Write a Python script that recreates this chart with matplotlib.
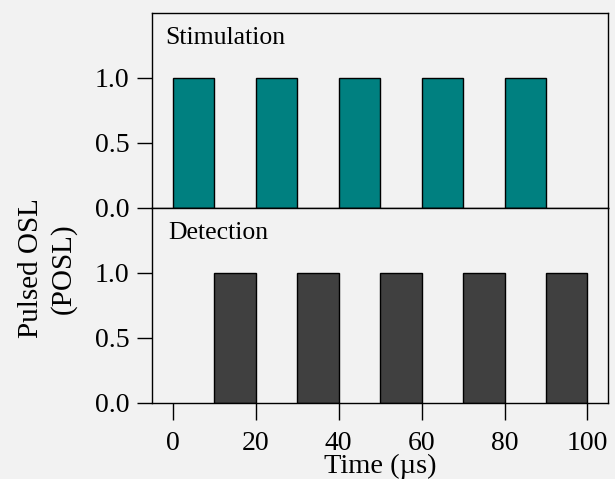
import matplotlib
matplotlib.use("Agg")
import matplotlib.pyplot as plt

# pulse timing (µs)
stim_starts = [0, 20, 40, 60, 80]
det_starts = [10, 30, 50, 70, 90]
pulse_width = 10
pulse_height = [1.0, 1.0, 1.0, 1.0, 1.0]
x_ticks = [0, 20, 40, 60, 80, 100]
y_ticks = [0.0, 0.5, 1.0]

plt.rcParams.update(
    {
        "font.family": "serif",
        "font.serif": ["Liberation Serif", "DejaVu Serif"],
        "font.size": 20,
        "axes.linewidth": 1.0,
        "xtick.major.size": 12,
        "ytick.major.size": 11,
        "xtick.major.width": 1.0,
        "ytick.major.width": 1.0,
    }
)

bg = "#f2f2f2"
fig = plt.figure(figsize=(6.15, 4.79), dpi=100, facecolor=bg)
ax1 = fig.add_axes([0.247, 0.566, 0.742, 0.407], facecolor=bg)
ax2 = fig.add_axes([0.247, 0.159, 0.742, 0.407], facecolor=bg, sharex=ax1)

ax1.bar(stim_starts, pulse_height, width=pulse_width, align="edge",
        color="#008080", edgecolor="black", linewidth=1.0)
ax2.bar(det_starts, pulse_height, width=pulse_width, align="edge",
        color="#404040", edgecolor="black", linewidth=1.0)

for ax in (ax1, ax2):
    ax.set_xlim(-5, 105)
    ax.set_ylim(0, 1.5)
    ax.set_yticks(y_ticks)
    ax.set_yticklabels([f"{v:.1f}" for v in y_ticks])
    ax.tick_params(axis="y", direction="out", pad=5)

ax1.tick_params(axis="x", bottom=False, labelbottom=False)
ax2.set_xticks(x_ticks)
ax2.tick_params(axis="x", direction="out", pad=8)
ax2.set_xlabel("Time (µs)", fontsize=20.5, labelpad=-1)

ax1.text(0.03, 0.93, "Stimulation", transform=ax1.transAxes,
         fontsize=18.5, va="top", ha="left")
ax2.text(0.035, 0.93, "Detection", transform=ax2.transAxes,
         fontsize=18.5, va="top", ha="left")

fig.text(0.077, 0.44, "Pulsed OSL\n(POSL)", rotation=90,
         ha="center", va="center", fontsize=21, linespacing=1.3)

fig.savefig("out.png", dpi=100, facecolor=bg)
